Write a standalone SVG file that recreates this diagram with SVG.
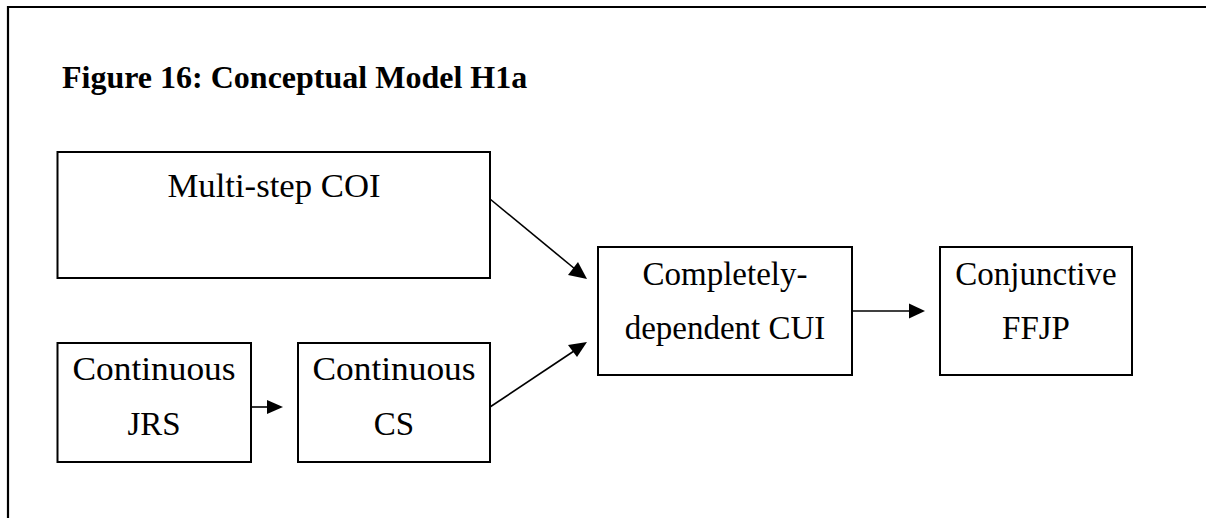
<svg xmlns="http://www.w3.org/2000/svg" width="1206" height="518" viewBox="0 0 1206 518">
<style>
.box{fill:#fff;stroke:#000;stroke-width:2}
.lbl{font-family:"Liberation Serif","Times New Roman",serif;font-size:33px;fill:#000;text-anchor:middle}
.title{font-family:"Liberation Serif","Times New Roman",serif;font-size:32px;font-weight:bold;fill:#000}
.edge{stroke:#000;stroke-width:1.6;fill:none}
.head{fill:#000}
</style>
<rect width="1206" height="518" fill="#fff"/>
<path d="M8,518 V7 H1206" fill="none" stroke="#000" stroke-width="2.2"/>
<text class="title" x="62" y="88">Figure 16: Conceptual Model H1a</text>
<g id="connectors">
<line class="edge" x1="490" y1="199" x2="575" y2="269"/>
<path class="head" d="M587,279 L568,275 L578,262 z"/>
<line class="edge" x1="490" y1="407" x2="574" y2="351"/>
<path class="head" d="M587,342 L577,357 L568,345 z"/>
<line class="edge" x1="251" y1="407" x2="268" y2="407"/>
<path class="head" d="M283,407 L267,400 L267,414 z"/>
<line class="edge" x1="852" y1="311" x2="910" y2="311"/>
<path class="head" d="M925,311 L909,303.5 L909,318.5 z"/>
</g>
<g id="node-coi">
<rect class="box" x="57.5" y="152" width="432.5" height="126"/>
<text class="lbl" x="274" y="197" textLength="213" lengthAdjust="spacingAndGlyphs">Multi-step COI</text>
</g>
<g id="node-jrs">
<rect class="box" x="57.5" y="343" width="193.5" height="119"/>
<text class="lbl" x="154" y="380" textLength="163" lengthAdjust="spacingAndGlyphs">Continuous</text>
<text class="lbl" x="154" y="435">JRS</text>
</g>
<g id="node-cs">
<rect class="box" x="298" y="343" width="192" height="119"/>
<text class="lbl" x="394" y="380" textLength="163" lengthAdjust="spacingAndGlyphs">Continuous</text>
<text class="lbl" x="394" y="435">CS</text>
</g>
<g id="node-cui">
<rect class="box" x="598" y="247" width="254" height="128"/>
<text class="lbl" x="725" y="285">Completely-</text>
<text class="lbl" x="725" y="339">dependent CUI</text>
</g>
<g id="node-ffjp">
<rect class="box" x="940" y="247" width="192" height="128"/>
<text class="lbl" x="1036" y="285">Conjunctive</text>
<text class="lbl" x="1036" y="339">FFJP</text>
</g>
</svg>
